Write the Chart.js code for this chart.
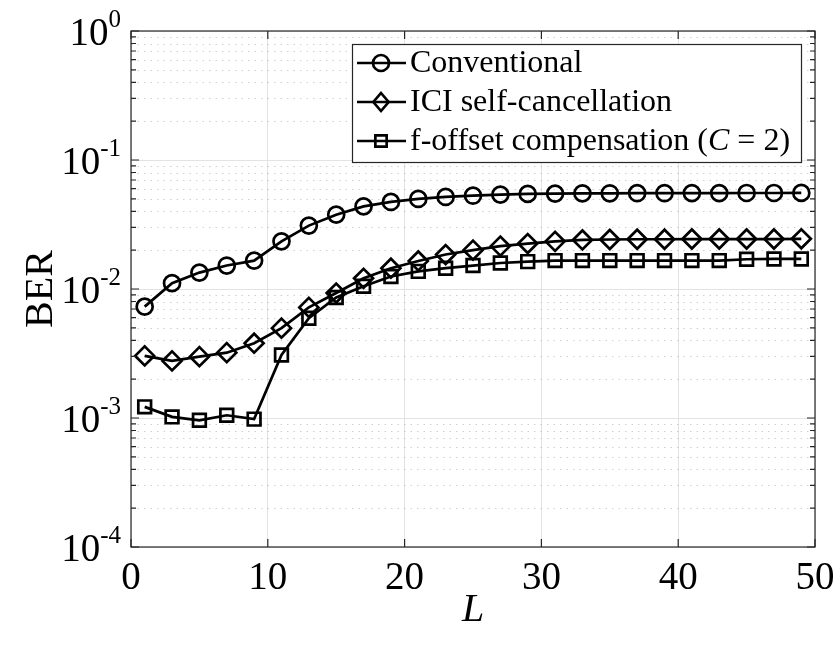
<!DOCTYPE html>
<html>
<head>
<meta charset="utf-8">
<script src="https://cdn.jsdelivr.net/npm/chart.js@4/dist/chart.umd.min.js"></script>
<style>
  html, body { margin: 0; padding: 0; background: #fff; }
  canvas { display: block; }
</style>
</head>
<body>
<canvas id="c" width="836" height="646"></canvas>
<script>
// Window length L and measured bit error rates for the three schemes
const L = [1, 3, 5, 7, 9, 11, 13, 15, 17, 19, 21, 23, 25, 27, 29, 31, 33, 35, 37, 39, 41, 43, 45, 47, 49];
const berConventional = [0.0073, 0.0111, 0.0134, 0.0152, 0.0166, 0.0234, 0.0310, 0.0377, 0.0437, 0.0473,
                         0.0499, 0.0517, 0.0529, 0.0539, 0.0546, 0.0549, 0.0551, 0.0552, 0.0553, 0.0553,
                         0.0554, 0.0554, 0.0555, 0.0555, 0.0556];
const berSelfCancel   = [0.00303, 0.00277, 0.00299, 0.00321, 0.00380, 0.00497, 0.00720, 0.00930, 0.0121, 0.0145,
                         0.0165, 0.0185, 0.0200, 0.0215, 0.0225, 0.0234, 0.0240, 0.0242, 0.0243, 0.0243,
                         0.0244, 0.0244, 0.0244, 0.0244, 0.0245];
const berOffsetComp   = [0.00122, 0.00102, 0.00096, 0.00105, 0.00098, 0.00308, 0.00594, 0.00860, 0.0105, 0.0125,
                         0.0137, 0.0145, 0.0152, 0.0159, 0.0163, 0.0166, 0.0166, 0.0166, 0.0166, 0.0166,
                         0.0166, 0.0166, 0.0170, 0.0171, 0.0171];
const seriesNames = ['Conventional', 'ICI self-cancellation', 'f-offset compensation (C = 2)'];
const xTickValues = [0, 10, 20, 30, 40, 50];
const decadeExponents = [-4, -3, -2, -1, 0];

const SERIF = '"Liberation Serif", "Times New Roman", serif';
const FRAME = '#262626';

function pts(ys) { return L.map((x, i) => ({ x: x, y: ys[i] })); }

function seriesStyle(name, data, style, radius) {
  return {
    label: name,
    data: pts(data),
    borderColor: '#000',
    backgroundColor: 'rgba(0,0,0,0)',
    borderWidth: 2.7,
    pointStyle: style,
    pointRadius: radius,
    pointBorderWidth: 2.7,
    pointBorderColor: '#000',
    pointBackgroundColor: 'rgba(0,0,0,0)',
    tension: 0
  };
}

// marker path used in the boxed legend
function markerPath(ctx, style, x, y, r) {
  ctx.beginPath();
  if (style === 'circle') {
    ctx.arc(x, y, r, 0, Math.PI * 2);
  } else if (style === 'rectRot') {
    ctx.moveTo(x, y - r); ctx.lineTo(x + r * 0.85, y); ctx.lineTo(x, y + r); ctx.lineTo(x - r * 0.85, y);
    ctx.closePath();
  } else {
    const s = r * Math.SQRT1_2;
    ctx.rect(x - s, y - s, 2 * s, 2 * s);
  }
}

const framePlugin = {
  id: 'framePlugin',
  beforeDatasetsDraw(chart) {
    const { ctx, chartArea: a, scales: { y } } = chart;
    // dotted minor grid between decades
    ctx.save();
    ctx.strokeStyle = 'rgba(150,150,150,0.45)';
    ctx.lineWidth = 1;
    ctx.setLineDash([1.5, 5]);
    for (let e = -4; e < 0; e++) {
      for (let k = 2; k <= 9; k++) {
        const py = Math.round(y.getPixelForValue(k * Math.pow(10, e))) + 0.5;
        ctx.beginPath(); ctx.moveTo(a.left, py); ctx.lineTo(a.right, py); ctx.stroke();
      }
    }
    ctx.restore();
  },
  afterDatasetsDraw(chart) {
    const { ctx, chartArea: a, scales: { x, y } } = chart;
    ctx.save();
    // axes box
    ctx.strokeStyle = FRAME;
    ctx.lineWidth = 1.2;
    ctx.strokeRect(a.left, a.top, a.right - a.left, a.bottom - a.top);
    // inward ticks on y (major + minor) on both sides
    ctx.beginPath();
    for (let e = -4; e <= 0; e++) {
      for (let k = 1; k <= 9; k++) {
        const v = k * Math.pow(10, e);
        if (v > 1) break;
        const py = y.getPixelForValue(v);
        const len = k === 1 ? 8 : 5;
        ctx.moveTo(a.left, py); ctx.lineTo(a.left + len, py);
        ctx.moveTo(a.right, py); ctx.lineTo(a.right - len, py);
      }
    }
    // inward ticks on x, bottom and top
    xTickValues.forEach(v => {
      const px = x.getPixelForValue(v);
      ctx.moveTo(px, a.bottom); ctx.lineTo(px, a.bottom - 8);
      ctx.moveTo(px, a.top); ctx.lineTo(px, a.top + 8);
    });
    ctx.stroke();

    // decade labels 10^n
    ctx.fillStyle = '#000';
    decadeExponents.forEach(e => {
      const py = y.getPixelForValue(Math.pow(10, e));
      const sup = String(e);
      ctx.font = '25px ' + SERIF;
      const supW = ctx.measureText(sup).width;
      const right = a.left - 10;
      ctx.textAlign = 'left';
      ctx.textBaseline = 'alphabetic';
      ctx.fillText(sup, right - supW, py - 4);
      ctx.font = '39px ' + SERIF;
      ctx.textAlign = 'right';
      ctx.fillText('10', right - supW, py + 14);
    });
    ctx.restore();
  },
  afterDraw(chart) {
    const { ctx } = chart;
    const box = { x: 352, y: 44, w: 449, h: 118 };
    ctx.save();
    ctx.fillStyle = '#fff';
    ctx.fillRect(box.x, box.y, box.w, box.h);
    ctx.strokeStyle = FRAME;
    ctx.lineWidth = 1.2;
    ctx.strokeRect(box.x + 0.5, box.y + 0.5, box.w, box.h);
    chart.data.datasets.forEach((ds, i) => {
      const cy = box.y + 19 + i * 39;
      ctx.strokeStyle = '#000';
      ctx.lineWidth = 2.7;
      ctx.beginPath(); ctx.moveTo(box.x + 5, cy); ctx.lineTo(box.x + 54, cy); ctx.stroke();
      markerPath(ctx, ds.pointStyle, box.x + 29, cy, ds.pointStyle === 'rectRot' ? 9 : 8);
      ctx.stroke();
      // label, with a lone "C" set in italics
      ctx.fillStyle = '#000';
      ctx.textBaseline = 'middle';
      ctx.textAlign = 'left';
      let tx = box.x + 58;
      ds.label.split(/(\bC\b)/).forEach(part => {
        if (!part) return;
        ctx.font = (part === 'C' ? 'italic ' : '') + '32px ' + SERIF;
        ctx.fillText(part, tx, cy + 1);
        tx += ctx.measureText(part).width;
      });
    });
    ctx.restore();
  }
};

new Chart(document.getElementById('c'), {
  type: 'line',
  data: {
    datasets: [
      seriesStyle(seriesNames[0], berConventional, 'circle', 8),
      seriesStyle(seriesNames[1], berSelfCancel, 'rectRot', 9.5),
      seriesStyle(seriesNames[2], berOffsetComp, 'rect', 9)
    ]
  },
  options: {
    responsive: false,
    animation: false,
    devicePixelRatio: 1,
    layout: { padding: { top: 31, right: 21, left: 0, bottom: 0 } },
    plugins: { legend: { display: false }, tooltip: { enabled: false } },
    scales: {
      x: {
        type: 'linear', min: 0, max: 50,
        afterBuildTicks: s => { s.ticks = xTickValues.map(v => ({ value: v })); },
        afterFit: s => { s.height = 99; s.paddingLeft = 0; s.paddingRight = 0; },
        ticks: { color: '#000', font: { family: SERIF, size: 39 }, padding: 8, maxRotation: 0 },
        grid: { color: '#e3e3e3', lineWidth: 1, drawTicks: false },
        border: { display: false },
        title: { display: true, text: 'L', color: '#000',
                 font: { family: SERIF, size: 40, style: 'italic' }, padding: { top: 0, bottom: 12 } }
      },
      y: {
        type: 'logarithmic', min: 1e-4, max: 1,
        afterBuildTicks: s => { s.ticks = decadeExponents.map(e => ({ value: Math.pow(10, e) })); },
        afterFit: s => { s.width = 131; s.paddingTop = 0; s.paddingBottom = 0; },
        ticks: { display: false },
        grid: { color: '#e3e3e3', lineWidth: 1, drawTicks: false },
        border: { display: false },
        title: { display: true, text: 'BER', color: '#000',
                 font: { family: SERIF, size: 40 }, padding: { top: 17, bottom: 0 } }
      }
    }
  },
  plugins: [framePlugin]
});
</script>
</body>
</html>
